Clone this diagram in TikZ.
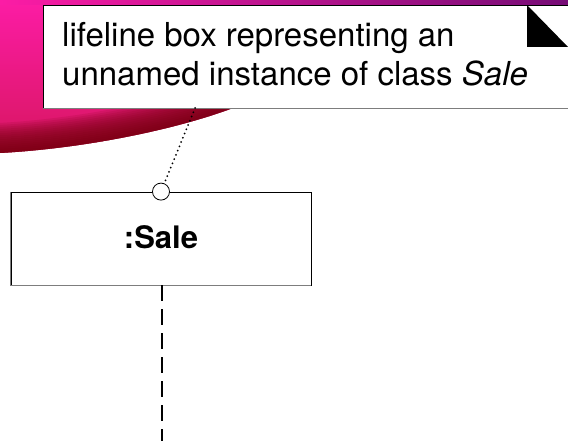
\documentclass[tikz,border=0pt]{standalone}
\usepackage{fontspec}
\setmainfont{TeX Gyre Heros}
\usetikzlibrary{positioning}

\definecolor{swooshpink}{RGB}{252,28,165}
\definecolor{swooshred}{RGB}{215,22,95}
\definecolor{swooshdark}{RGB}{118,0,14}
\definecolor{stripmagenta}{RGB}{228,12,150}
\definecolor{stripviolet}{RGB}{118,12,118}
\definecolor{edgegray}{RGB}{125,125,125}

\begin{document}
\begin{tikzpicture}[x=1pt, y=-1pt,
	boxshape/.style={shape=rectangle, draw=black, fill=white, line width=0.8pt, inner sep=0pt},
	ringshape/.style={shape=circle, draw=black, fill=white, line width=0.8pt, minimum size=17pt, inner sep=0pt},
	notetext/.style={align=left, inner sep=0pt, font=\fontsize{33}{39.5}\selectfont},
	objtext/.style={inner sep=0pt, font=\fontsize{31}{37}\selectfont\bfseries},
	lifeline/.style={draw=black, line width=2pt, dash pattern={on 16pt off 8pt}},
	noteline/.style={draw=black, line width=2pt, line cap=round, dash pattern={on 0pt off 4.6pt}}]
	\useasboundingbox (0,0) rectangle (568,444);
	% background swoosh
	\begin{scope}
		\clip (0,0) -- (568,0) -- (568,30) -- (233,108) .. controls (180,128) and (90,148) .. (0,153) -- cycle;
		\shade[top color=swooshpink, bottom color=swooshred] (0,0) rectangle (568,153);
		\foreach \w in {4,8,...,60}
			\draw[swooshdark, line width=\w pt, opacity=0.12] (0,153) .. controls (90,148) and (180,128) .. (233,108) -- (568,30);
	\end{scope}
	\shade[left color=swooshpink, middle color=stripmagenta, right color=stripviolet] (0,0) rectangle (568,5);
	% note
	\node[boxshape, minimum width=540pt, minimum height=103pt] (note) at (313,56.5) {};
	\draw[edgegray, line width=1.6pt] (note.south west) -- (note.south east);
	\fill (527,5) -- (527,47) -- (568,47) -- cycle;
	\node[notetext, anchor=base west] (notelabel) at (62,86) {lifeline box representing an\\unnamed instance of class \textit{Sale}};
	% lifeline box
	\node[boxshape, minimum width=300pt, minimum height=93pt] (sale) at (161,238.5) {};
	\draw[edgegray, line width=1.6pt] (sale.north west) -- (sale.south west) -- (sale.south east);
	\node[objtext, anchor=base] (salelabel) at (161,248) {:Sale};
	\node[ringshape] (ring) at (sale.north) {};
	% connectors
	\coordinate (notefoot) at (195,108);
	\coordinate (lifeend) at (162,441);
	\draw[noteline] (notefoot) -- (ring);
	\draw[lifeline] (sale.south -| lifeend) -- (lifeend);
\end{tikzpicture}
\end{document}
